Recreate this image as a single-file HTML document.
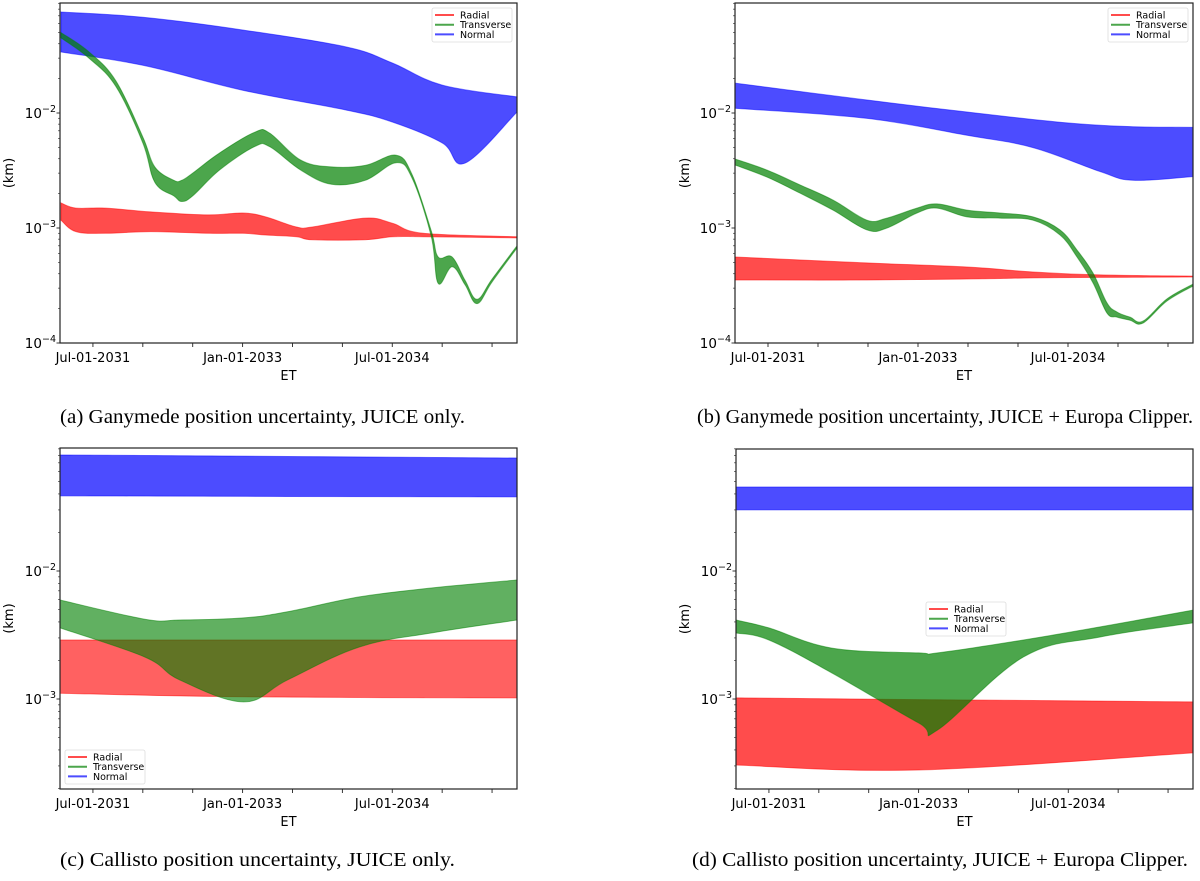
<!DOCTYPE html>
<html><head><meta charset="utf-8"><style>
body{margin:0;background:#fff;}
svg text{font-family:"DejaVu Sans","Liberation Sans",sans-serif;}
.cap{font-family:"Liberation Serif",serif;font-size:19.5px;fill:#000;}
</style></head><body>
<svg id="fig" width="1200" height="876" viewBox="0 0 1200 876" xmlns="http://www.w3.org/2000/svg">
<text class="cap" x="60" y="423" textLength="405" lengthAdjust="spacingAndGlyphs">(a) Ganymede position uncertainty, JUICE only.</text>
<text class="cap" x="697" y="423" textLength="496" lengthAdjust="spacingAndGlyphs">(b) Ganymede position uncertainty, JUICE + Europa Clipper.</text>
<text class="cap" x="60" y="866" textLength="395" lengthAdjust="spacingAndGlyphs">(c) Callisto position uncertainty, JUICE only.</text>
<text class="cap" x="692" y="866" textLength="496" lengthAdjust="spacingAndGlyphs">(d) Callisto position uncertainty, JUICE + Europa Clipper.</text>
</svg>
<script>
// ---- Panel (a) data ----
const aBlueT=[2031.18,2032,2033,2034.04,2034.5,2035,2035.75];
const aBlueHi=[0.0755,0.068,0.0527,0.0375,0.0272,0.0175,0.0138];
const aBlueLoT=[2031.18,2032,2033,2034.04,2034.5,2035,2035.23,2035.75];
const aBlueLo=[0.0339,0.026,0.0158,0.0106,0.00835,0.0055,0.00367,0.0102];
const aGreenT=[2031.18,2031.46,2031.73,2032.0,2032.12,2032.31,2032.39,2032.5,2032.77,2033.12,2033.27,2033.58,2033.89,2034.23,2034.54,2034.7,2034.89,2034.96,2035.1,2035.23,2035.35,2035.5,2035.75];
const aGreenHi=[0.050,0.034,0.019,0.0062,0.0034,0.0026,0.0026,0.0030,0.0045,0.0068,0.0067,0.0039,0.0034,0.0035,0.0043,0.0029,0.00095,0.00056,0.00056,0.00035,0.00024,0.00036,0.00070];
const aGreenLo=[0.045,0.030,0.017,0.0055,0.0025,0.0019,0.0017,0.0019,0.0032,0.0051,0.0051,0.0032,0.0024,0.0026,0.0037,0.0027,0.00085,0.00033,0.00046,0.00032,0.00022,0.00034,0.00067];
const aRedT=[2031.18,2031.33,2031.63,2032.08,2032.65,2033.0,2033.23,2033.54,2033.7,2034.23,2034.5,2034.81,2035.75];
const aRedHi=[0.00165,0.00149,0.00149,0.00138,0.00130,0.00135,0.00125,0.00102,0.00102,0.00122,0.00110,0.00090,0.00084];
const aRedLo=[0.00117,0.00093,0.00090,0.00093,0.00090,0.00090,0.00087,0.00084,0.00079,0.00079,0.00084,0.00084,0.00082];
// ---- Panel (b) data ----
const bBlueT=[2031.17,2032.48,2033.49,2034.49,2035.15,2035.75];
const bBlueHi=[0.0182,0.0130,0.0102,0.0082,0.0076,0.0075];
const bBlueLoT=[2031.17,2032.48,2033.49,2034.15,2034.82,2035.15,2035.75];
const bBlueLo=[0.0110,0.0090,0.0064,0.0050,0.0031,0.0026,0.0028];
const bGreenT=[2031.17,2031.49,2031.82,2032.15,2032.49,2032.69,2032.99,2033.19,2033.49,2033.82,2034.15,2034.42,2034.59,2034.75,2034.89,2034.99,2035.12,2035.25,2035.49,2035.75];
const bGreenHi=[0.00398,0.00319,0.00237,0.00175,0.00117,0.00122,0.00149,0.00162,0.00143,0.00135,0.00125,0.000962,0.000644,0.000406,0.000223,0.000186,0.000168,0.000155,0.000242,0.000325];
const bGreenLo=[0.00353,0.00277,0.00201,0.00143,0.000962,0.00100,0.00135,0.00149,0.00125,0.00122,0.00117,0.000869,0.000560,0.000333,0.000182,0.000168,0.000158,0.000149,0.000232,0.000313];
const bRedT=[2031.17,2032.48,2033.49,2034.15,2034.82,2035.75];
const bRedHi=[0.000560,0.000497,0.000458,0.000414,0.000391,0.000382];
const bRedLo=[0.000353,0.000353,0.000360,0.000368,0.000372,0.000375];
// ---- Panel (c) data ----
const cBlueT=[2031.17,2035.75];
const cBlueHi=[0.0806,0.0764];
const cBlueLo=[0.0386,0.0379];
const cGreenT=[2031.17,2032.02,2032.37,2033.01,2033.45,2034.17,2034.89,2035.75];
const cGreenHi=[0.00593,0.00420,0.00414,0.00430,0.00480,0.00627,0.00736,0.00851];
const cGreenLo=[0.00359,0.00213,0.00141,0.00095,0.00141,0.00255,0.00328,0.00414];
const cRedT=[2031.17,2033.0,2035.75];
const cRedHi=[0.00289,0.00289,0.00289];
const cRedLo=[0.00111,0.00104,0.00102];
// ---- Panel (d) data ----
const dBlueT=[2031.17,2035.75];
const dBlueHi=[0.0453,0.0453];
const dBlueLo=[0.0300,0.0300];
const dGreenT=[2031.17,2031.5,2032.13,2033.0,2033.19,2034.05,2034.82,2035.75];
const dGreenHi=[0.00414,0.00359,0.00250,0.00229,0.00229,0.00289,0.00366,0.00495];
const dGreenLo=[0.00328,0.00289,0.00160,0.00065,0.000573,0.00213,0.00305,0.00393];
const dRedT=[2031.17,2033.0,2035.75];
const dRedHi=[0.00102,0.00099,0.00095];
const dRedLo=[0.000305,0.000279,0.000379];
// ---- Axis tick data ----
const xTickYears=[2031.5,2032,2032.5,2033,2033.5,2034,2034.5,2035,2035.5];
const xTickLabels={"2031.5":"Jul-01-2031","2033":"Jan-01-2033","2034.5":"Jul-01-2034"};
const legendNames=["Radial","Transverse","Normal"];

const NS="http://www.w3.org/2000/svg";
const svg=document.getElementById('fig');
const COL={red:'#ff0000',green:'#008000',blue:'#0000ff'};
function mk(tag,attrs,parent){const e=document.createElementNS(NS,tag);for(const k in attrs)e.setAttribute(k,attrs[k]);(parent||svg).appendChild(e);return e;}
function smooth(P,first){
  // Catmull-Rom -> cubic bezier, tension reduced
  let d=first?('M'+P[0][0].toFixed(1)+','+P[0][1].toFixed(1)):('L'+P[0][0].toFixed(1)+','+P[0][1].toFixed(1));
  const k=0.18;
  for(let i=0;i<P.length-1;i++){
    const p0=P[Math.max(0,i-1)],p1=P[i],p2=P[i+1],p3=P[Math.min(P.length-1,i+2)];
    const c1=[p1[0]+(p2[0]-p0[0])*k,p1[1]+(p2[1]-p0[1])*k];
    const c2=[p2[0]-(p3[0]-p1[0])*k,p2[1]-(p3[1]-p1[1])*k];
    d+='C'+c1[0].toFixed(1)+','+c1[1].toFixed(1)+' '+c2[0].toFixed(1)+','+c2[1].toFixed(1)+' '+p2[0].toFixed(1)+','+p2[1].toFixed(1);
  }
  return d;
}

const panels=[
 {id:'a',x0:60,x1:517,y0:3,y1:343,yRef:113,dec:115,legend:[432,8],
  series:[['blue',aBlueT,aBlueHi,aBlueLoT,aBlueLo],['red',aRedT,aRedHi,aRedT,aRedLo],['green',aGreenT,aGreenHi,aGreenT,aGreenLo]]},
 {id:'b',x0:735,x1:1193,y0:3,y1:343,yRef:113,dec:115,legend:[1108,8],
  series:[['blue',bBlueT,bBlueHi,bBlueLoT,bBlueLo],['red',bRedT,bRedHi,bRedT,bRedLo],['green',bGreenT,bGreenHi,bGreenT,bGreenLo]]},
 {id:'c',x0:60,x1:517,y0:448,y1:789,yRef:571,dec:128,legend:[65,750],
  series:[['blue',cBlueT,cBlueHi,cBlueT,cBlueLo],['red',cRedT,cRedHi,cRedT,cRedLo],['green',cGreenT,cGreenHi,cGreenT,cGreenLo]]},
 {id:'d',x0:736,x1:1193,y0:449,y1:789,yRef:571,dec:128,legend:[926,602],
  series:[['blue',dBlueT,dBlueHi,dBlueT,dBlueLo],['red',dRedT,dRedHi,dRedT,dRedLo],['green',dGreenT,dGreenHi,dGreenT,dGreenLo]]}
];
const T0=2031.17,T1=2035.75;

panels.forEach(p=>{
  const g=mk('g',{});
  
  
  const xs=t=>p.x0+(t-T0)/(T1-T0)*(p.x1-p.x0);
  const ys=v=>p.yRef-(Math.log10(v)+2)*p.dec;
  const clip=mk('clipPath',{id:'clip-'+p.id},g);
  mk('rect',{x:p.x0,y:p.y0,width:p.x1-p.x0,height:p.y1-p.y0},clip);
  p.series.forEach(s=>{
    const [c,tH,hi,tL,lo]=s;
    const top=tH.map((t,i)=>[xs(t),ys(hi[i])]);
    const bot=[];for(let i=tL.length-1;i>=0;i--)bot.push([xs(tL[i]),ys(lo[i])]);
    const d=smooth(top,true)+smooth(bot,false)+'Z';
    const path=mk('path',{d:d,fill:COL[c],'fill-opacity':(p.id==='c'&&c!=='blue')?0.62:0.7,stroke:COL[c],'stroke-opacity':0.5,'stroke-width':1,'clip-path':'url(#clip-'+p.id+')'},g);
    
    
  });
  const frame=mk('rect',{x:p.x0,y:p.y0,width:p.x1-p.x0,height:p.y1-p.y0,fill:'none',stroke:'#222','stroke-width':1.2},g);
  
  
  const eTop=-2+(p.yRef-p.y0)/p.dec, eBot=-2-(p.y1-p.yRef)/p.dec;
  for(let e=Math.floor(eBot);e<=Math.ceil(eTop);e++){
    for(let m=1;m<10;m++){
      const v=m*Math.pow(10,e);const y=ys(v);
      if(y<p.y0-0.5||y>p.y1+0.5)continue;
      mk('line',{x1:p.x0,x2:p.x0-(m===1?3.5:2),y1:y,y2:y,stroke:'#222','stroke-width':m===1?0.9:0.6},g);
      if(m===1){
        const t=mk('text',{x:p.x0-4,y:y+5,'font-size':13.5,'text-anchor':'end',fill:'#000'},g);
        
        
        const a=mk('tspan',{},t);a.textContent='10';
        const b=mk('tspan',{'font-size':9.5,dy:-6},t);b.textContent='\u2212'+(-e);
      }
    }
  }
  xTickYears.forEach(yr=>{
    const x=xs(yr);
    mk('line',{x1:x,x2:x,y1:p.y1,y2:p.y1+4,stroke:'#222','stroke-width':0.9},g);
    const lab=xTickLabels[String(yr)];
    if(lab){const t=mk('text',{x:x,y:p.y1+19,'font-size':13,'text-anchor':'middle',fill:'#000'},g);t.textContent=lab;
      
      }
  });
  const et=mk('text',{x:(p.x0+p.x1)/2,y:p.y1+37,'font-size':13,'text-anchor':'middle',fill:'#000'},g);et.textContent='ET';
  
  
  const yl=(p.x0===60)?9:685;
  const ym=(p.y0+p.y1)/2;
  const kt=mk('text',{x:yl,y:ym,'font-size':13,'text-anchor':'middle',transform:'rotate(-90 '+yl+' '+ym+')',dy:4,fill:'#000'},g);kt.textContent='(km)';
  
  
  const [lx,ly]=p.legend;
  const lg=mk('g',{},g);
  
  
  mk('rect',{x:lx,y:ly,width:80,height:34,rx:2,fill:'#fff','fill-opacity':0.85,stroke:'#ddd','stroke-width':0.8},lg);
  ['red','green','blue'].forEach((c,i)=>{
    const yy=ly+7+i*9.7;
    mk('line',{x1:lx+3,x2:lx+22,y1:yy,y2:yy,stroke:COL[c],'stroke-opacity':0.7,'stroke-width':2},lg);
    const t=mk('text',{x:lx+28,y:yy+3.5,'font-size':9.5,fill:'#000'},lg);t.textContent=legendNames[i];
    
    
  });
});
</script>
</body></html>
